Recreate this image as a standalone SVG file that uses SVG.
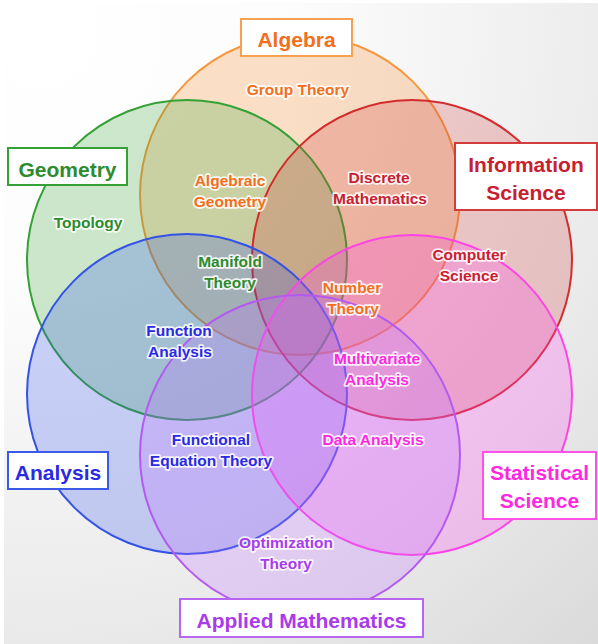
<svg xmlns="http://www.w3.org/2000/svg" width="598" height="644" viewBox="0 0 598 644">
<defs>
<radialGradient id="bg" gradientUnits="userSpaceOnUse" cx="40" cy="30" r="860">
<stop offset="0" stop-color="#ffffff"/>
<stop offset="0.3" stop-color="#fcfcfc"/>
<stop offset="0.68" stop-color="#ebebeb"/>
<stop offset="1" stop-color="#d8d8d8"/>
</radialGradient>
</defs>
<style>
.c{stroke-width:2;fill-opacity:0.25}
.box{fill:#ffffff;stroke-width:2}
.t{font-family:"Liberation Sans",Arial,sans-serif;font-weight:bold;font-size:21px;text-anchor:middle}
.l{font-family:"Liberation Sans",Arial,sans-serif;font-weight:bold;font-size:15.5px;text-anchor:middle;stroke:#ffffff;stroke-width:3.5;stroke-opacity:0.85;stroke-linejoin:round;paint-order:stroke}
.or{fill:#f36f1c}
.gr{fill:#2e8b2e}
.rd{fill:#c8202f}
.bl{fill:#2a2ae6}
.mg{fill:#ff28e0}
.pu{fill:#a83ceb}
</style>
<rect x="0" y="0" width="598" height="644" fill="#ffffff"/>
<rect x="4" y="3" width="594" height="641" fill="url(#bg)"/>
<g id="algebra">
<circle class="c" cx="300" cy="195" r="160" fill="#f38723" stroke="#f7963c"/>
<rect class="box" x="241" y="19" width="111" height="37" stroke="#f7a050"/>
<text class="t or" x="296.5" y="47">Algebra</text>
</g>
<g id="geometry">
<circle class="c" cx="187" cy="260" r="160" fill="#37a337" stroke="#35a035"/>
<rect class="box" x="8" y="148" width="119" height="37" stroke="#35a035"/>
<text class="t gr" x="67.5" y="177">Geometry</text>
</g>
<g id="information-science">
<circle class="c" cx="412" cy="260" r="160" fill="#d04040" stroke="#d22c2c"/>
<rect class="box" x="455" y="143" width="142" height="67" stroke="#d23c3c"/>
<text class="t rd" x="526" y="172">Information</text>
<text class="t rd" x="526" y="200">Science</text>
</g>
<g id="analysis">
<circle class="c" cx="187" cy="394" r="160" fill="#3355ee" stroke="#3352e6"/>
<rect class="box" x="8" y="452" width="100" height="37" stroke="#3a5ae8"/>
<text class="t bl" x="58" y="480">Analysis</text>
</g>
<g id="statistical-science">
<circle class="c" cx="412" cy="395" r="160" fill="#ff44ee" stroke="#ff44e6"/>
<rect class="box" x="483" y="452" width="113" height="67" stroke="#ff50ea"/>
<text class="t mg" x="539.5" y="480">Statistical</text>
<text class="t mg" x="539.5" y="508">Science</text>
</g>
<g id="applied-mathematics">
<circle class="c" cx="300" cy="455" r="160" fill="#c070ff" stroke="#b45af0"/>
<rect class="box" x="180" y="599" width="243" height="38" stroke="#b866f0"/>
<text class="t pu" x="301.5" y="628">Applied Mathematics</text>
</g>
<g id="area-labels">
<text class="l or" x="298" y="95">Group Theory</text>
<text class="l or" x="230" y="186">Algebraic</text>
<text class="l or" x="230" y="207">Geometry</text>
<text class="l gr" x="88" y="228">Topology</text>
<text class="l gr" x="230" y="267">Manifold</text>
<text class="l gr" x="230" y="288">Theory</text>
<text class="l rd" x="379" y="183">Discrete</text>
<text class="l rd" x="380" y="204">Mathematics</text>
<text class="l rd" x="469" y="260">Computer</text>
<text class="l rd" x="469" y="281">Science</text>
<text class="l or" x="352" y="293">Number</text>
<text class="l or" x="353" y="314">Theory</text>
<text class="l bl" x="179" y="336">Function</text>
<text class="l bl" x="180" y="357">Analysis</text>
<text class="l mg" x="377" y="364">Multivariate</text>
<text class="l mg" x="377" y="385">Analysis</text>
<text class="l bl" x="211" y="445">Functional</text>
<text class="l bl" x="211" y="466">Equation Theory</text>
<text class="l mg" x="373" y="445">Data Analysis</text>
<text class="l pu" x="286" y="548">Optimization</text>
<text class="l pu" x="286" y="569">Theory</text>
</g>
</svg>
